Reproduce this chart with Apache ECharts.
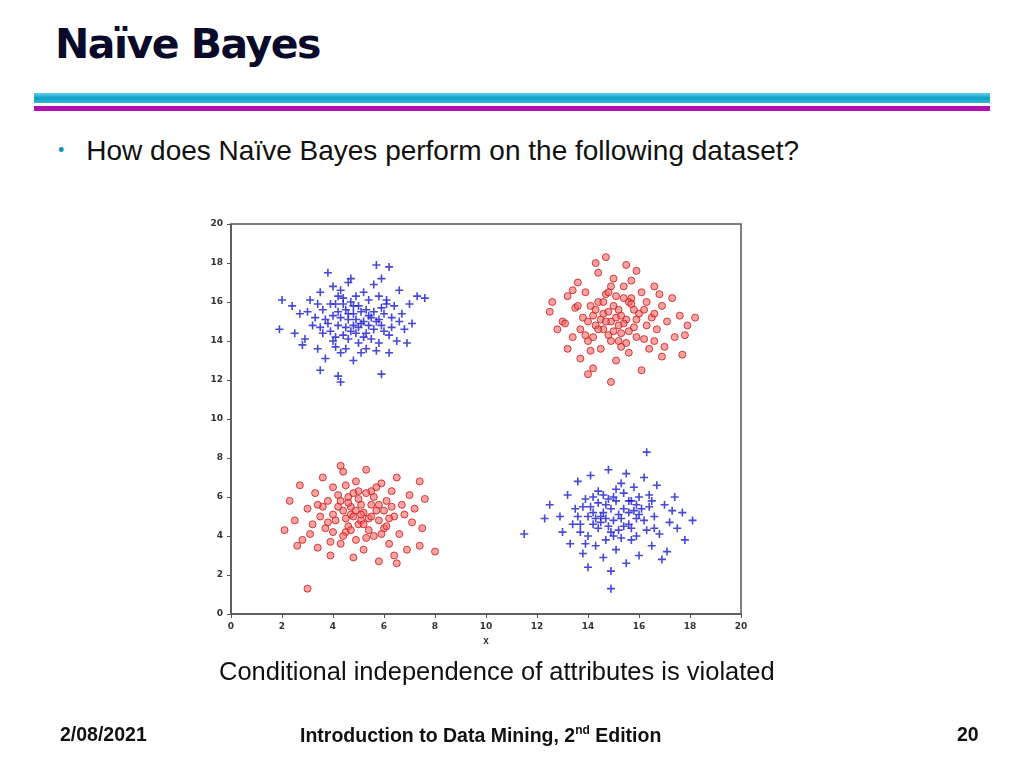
<!DOCTYPE html>
<html><head><meta charset="utf-8">
<script src="https://cdn.jsdelivr.net/npm/echarts@6/dist/echarts.min.js"></script>
<style>
body{margin:0;width:1024px;height:768px;background:#fff;position:relative;overflow:hidden;font-family:"Liberation Sans",Arial,sans-serif}
.t{position:absolute;white-space:nowrap}
</style></head><body>
<div class="t" style="left:55px;top:20px;font:bold 41px 'DejaVu Sans';color:#0a0a2a;letter-spacing:-1.5px">Naïve Bayes</div>
<div style="position:absolute;left:34px;top:93px;width:956px;height:10px;background:linear-gradient(#5fd0e8,#10a0c8 50%,#30b8d8)"></div>
<div style="position:absolute;left:34px;top:106px;width:956px;height:5px;background:#b010b0"></div>
<div class="t" style="left:58px;top:135px;font-size:28px;color:#111"><span style="color:#1a8fb0;font-size:18px;position:relative;top:-4px;margin-right:22px">•</span>How does Naïve Bayes perform on the following dataset?</div>
<div id="c" style="position:absolute;left:0;top:0;width:1024px;height:768px"></div>
<div class="t" style="left:219px;top:657px;font-size:25.5px;color:#111">Conditional independence of attributes is violated</div>
<div class="t" style="left:60px;top:723px;font:bold 19.5px 'Liberation Sans';color:#111">2/08/2021</div>
<div class="t" style="left:300px;top:723px;font:bold 19.5px 'Liberation Sans';color:#111">Introduction to Data Mining, 2<sup style="font-size:12px">nd</sup> Edition</div>
<div class="t" style="left:957px;top:723px;font:bold 19.5px 'Liberation Sans';color:#111">20</div>
<script>
var xTicks=[0,2,4,6,8,10,12,14,16,18,20];
var blueTL=[[2,16.1],[1.9,14.6],[2.5,14.4],[2.8,13.8],[2.9,14.1],[3.5,12.5],[4.2,12.2],[4.3,11.9],[5.9,12.3],[7.3,16.3],[7.6,16.2],[5.7,17.9],[6.2,17.8],[3.8,17.5],[2.4,15.8],[2.7,15.4],[3.1,16.1],[3.3,15.2],[3.5,16.5],[3.6,14.4],[3.4,13.6],[3.7,13.1],[3.9,15.9],[3.8,14.9],[4.0,16.8],[4.1,14.2],[4.2,15.5],[4.3,13.4],[4.4,16.2],[4.5,14.7],[4.6,15.1],[4.7,17.2],[4.8,13.0],[4.9,14.4],[5.0,15.8],[5.1,14.9],[5.2,16.5],[5.3,13.6],[5.4,15.3],[5.5,14.1],[5.6,16.9],[5.7,15.0],[5.8,13.9],[5.9,15.7],[6.0,14.5],[6.1,16.1],[6.2,13.4],[6.3,15.2],[6.5,14.0],[6.6,16.6],[6.7,15.4],[6.8,14.6],[7.0,15.9],[7.1,14.9],[6.9,13.9],[4.0,15.3],[4.4,15.9],[4.8,15.4],[5.2,15.0],[5.6,14.6],[4.6,14.1],[5.0,13.9],[5.4,16.1],[3.9,14.5],[4.3,16.6],[6.4,15.8],[5.8,16.3],[4.1,13.7],[4.7,16.0],[5.3,14.4],[3.2,14.8],[6.0,15.4],[4.9,15.1],[5.1,15.5],[4.5,15.6],[5.5,15.2],[6.2,14.3],[3.6,15.6],[4.2,14.8],[5.7,13.5],[6.6,15.0],[4.6,17.0],[5.9,17.2],[3.0,15.5],[4.3,15.2],[4.7,14.5],[5.0,14.7],[5.3,15.6],[4.4,14.3],[4.9,16.3],[5.6,15.5],[4.1,15.9],[5.9,14.8],[3.7,15.1],[4.6,15.4],[5.2,14.2],[4.8,14.8],[5.4,14.8],[4.0,14.0],[6.3,14.7],[3.4,15.9],[5.1,13.4],[4.5,13.6],[5.8,15.1],[4.2,16.3],[6.1,15.9],[3.5,14.7],[4.8,15.8]];
var redTR=[[14.7,18.3],[18.2,15.2],[12.5,15.5],[14.9,11.9],[17.8,14.3],[12.6,16.0],[12.8,14.6],[13.0,15.0],[13.2,16.3],[13.2,13.6],[13.4,14.2],[13.5,15.7],[13.6,17.0],[13.7,13.1],[13.8,15.2],[13.9,16.5],[14.0,14.0],[14.1,15.8],[14.2,12.6],[14.3,14.8],[14.4,17.5],[14.5,13.6],[14.6,15.4],[14.7,16.4],[14.8,14.3],[14.9,15.0],[15.0,17.2],[15.1,13.0],[15.2,15.6],[15.3,14.4],[15.4,16.8],[15.5,15.1],[15.6,13.4],[15.7,16.2],[15.8,14.7],[15.9,17.6],[16.0,15.4],[16.1,12.5],[16.2,14.1],[16.3,16.0],[16.4,13.6],[16.5,15.2],[16.6,16.8],[16.7,14.6],[16.9,15.8],[17.0,13.7],[17.1,15.0],[17.3,16.2],[17.4,14.2],[17.6,15.3],[17.7,13.3],[14.2,15.3],[14.6,14.6],[15.0,15.8],[15.4,14.9],[15.8,15.6],[14.4,16.0],[15.2,14.0],[15.6,16.0],[13.7,14.6],[16.2,15.6],[14.9,16.8],[15.3,13.7],[14.1,13.5],[16.6,14.0],[13.4,16.6],[15.7,17.1],[14.8,15.5],[15.1,15.2],[14.5,15.1],[15.9,14.2],[16.8,16.4],[13.1,14.9],[14.3,18.0],[15.5,17.9],[16.9,13.2],[17.9,14.8],[14.0,12.3],[14.4,14.6],[14.7,15.0],[15.0,14.5],[15.3,15.3],[15.6,14.5],[14.3,15.6],[15.1,16.3],[15.9,15.1],[14.0,15.0],[14.6,16.0],[15.4,16.2],[16.3,14.8],[13.6,15.8],[14.9,14.0],[15.7,15.9],[14.2,14.2],[16.1,16.5],[15.2,14.8],[14.8,16.5],[13.9,14.3],[16.6,15.4],[15.5,13.9]];
var redBL=[[3,1.3],[8,3.2],[2.1,4.3],[7.4,3.5],[2.3,5.8],[2.5,4.8],[2.7,6.6],[2.8,3.8],[3.0,5.4],[3.1,4.1],[3.3,6.2],[3.4,3.4],[3.5,5.0],[3.6,7.0],[3.7,4.4],[3.8,5.8],[3.9,3.0],[4.0,6.5],[4.1,4.8],[4.2,5.5],[4.3,3.6],[4.4,7.3],[4.5,4.2],[4.6,6.0],[4.7,5.1],[4.8,2.9],[4.9,6.8],[5.0,4.6],[5.1,5.6],[5.2,3.3],[5.3,7.4],[5.4,4.9],[5.5,6.3],[5.6,4.0],[5.7,5.3],[5.8,2.7],[5.9,6.7],[6.0,4.4],[6.1,5.8],[6.2,3.6],[6.3,6.3],[6.4,5.0],[6.5,7.0],[6.6,4.1],[6.7,5.6],[6.9,3.3],[7.0,6.1],[7.1,4.7],[7.2,5.4],[7.4,6.8],[7.5,4.4],[7.6,5.9],[4.4,5.3],[4.8,5.0],[5.2,5.2],[5.0,5.9],[4.6,4.5],[5.4,4.3],[5.6,6.0],[4.2,6.1],[4.0,4.2],[5.8,4.8],[6.0,5.3],[3.6,5.5],[4.9,3.8],[5.3,6.2],[4.5,6.6],[6.2,4.9],[3.2,4.6],[6.8,5.1],[5.1,4.8],[4.7,5.5],[5.5,5.6],[3.9,3.7],[6.4,3.0],[2.6,3.5],[6.5,2.6],[4.3,7.6],[4.5,4.9],[4.9,5.3],[5.2,4.6],[4.3,5.8],[5.5,5.0],[4.7,4.3],[5.0,6.3],[5.8,5.6],[4.0,5.1],[5.3,3.9],[4.6,5.7],[6.1,4.5],[3.8,4.7],[5.7,6.5],[4.4,4.0],[5.1,5.1],[4.8,6.2],[6.3,5.5],[3.4,5.6],[5.9,4.1]];
var blueBR=[[11.5,4.1],[12.5,5.6],[18.1,4.8],[14.9,1.3],[14.0,2.4],[16.3,8.3],[12.9,5.0],[13.0,4.2],[13.2,6.1],[13.3,3.6],[13.5,5.4],[13.6,6.8],[13.7,4.6],[13.8,3.1],[13.9,5.9],[14.0,4.0],[14.1,7.1],[14.2,5.2],[14.3,3.5],[14.4,6.3],[14.5,4.7],[14.6,2.9],[14.7,5.6],[14.8,7.4],[14.9,4.2],[15.0,6.0],[15.1,3.3],[15.2,5.1],[15.3,6.7],[15.4,4.5],[15.5,2.6],[15.6,5.8],[15.7,3.8],[15.8,6.5],[15.9,4.9],[16.0,3.0],[16.1,5.4],[16.2,7.0],[16.3,4.3],[16.4,6.1],[16.5,3.5],[16.6,5.0],[16.7,6.6],[16.8,4.1],[17.0,5.6],[17.1,3.2],[17.2,4.7],[17.4,6.0],[17.5,4.4],[17.7,5.2],[17.8,3.8],[14.6,5.2],[15.0,4.8],[15.4,5.4],[15.2,4.3],[14.8,5.9],[15.6,4.6],[14.4,4.4],[15.8,5.3],[14.2,6.0],[16.0,6.0],[14.7,3.8],[15.3,3.9],[13.6,5.0],[16.4,5.5],[15.1,6.4],[14.3,4.9],[15.9,4.0],[13.9,3.6],[16.6,4.4],[15.5,7.2],[14.1,5.5],[15.7,5.8],[14.9,2.2],[13.4,4.6],[17.3,5.3],[16.9,2.8],[12.3,4.9],[14.5,5.0],[14.9,5.4],[15.3,4.9],[15.6,5.2],[14.2,4.6],[14.8,4.5],[15.1,5.8],[15.9,5.6],[14.0,5.0],[15.4,6.2],[14.6,6.1],[16.2,4.8],[13.8,5.5],[15.0,4.0],[16.0,5.1],[14.4,5.7],[15.7,4.4],[14.7,4.9],[16.5,5.8],[13.7,4.2]];
var chart=echarts.init(document.getElementById('c'));
var plus='path://M4,0H6V4H10V6H6V10H4V6H0V4H4Z';
var ax={min:0,max:20,interval:2,axisLine:{show:true,lineStyle:{color:'#555',width:1.5}},axisTick:{show:true,length:4,lineStyle:{color:'#555'}},splitLine:{show:false},axisLabel:{fontSize:9,fontWeight:'bold',color:'#333',fontFamily:'DejaVu Sans'}};
var red={itemStyle:{color:'rgba(255,100,100,0.75)',borderColor:'#c01818',borderWidth:1},symbol:'circle',symbolSize:7};
var blue={itemStyle:{color:'#1a1acc'},symbol:plus,symbolSize:8};
chart.setOption({animation:false,
grid:{left:231,right:283,top:224,bottom:154,show:true,borderColor:'#555',borderWidth:1.5},
xAxis:Object.assign({},ax,{name:'x',nameLocation:'middle',nameGap:20,nameTextStyle:{fontSize:10,fontWeight:'bold',color:'#333'}}),
yAxis:ax,
series:[
Object.assign({type:'scatter',data:blueTL},blue),
Object.assign({type:'scatter',data:blueBR},blue),
Object.assign({type:'scatter',data:redTR},red),
Object.assign({type:'scatter',data:redBL},red)]});
</script></body></html>
